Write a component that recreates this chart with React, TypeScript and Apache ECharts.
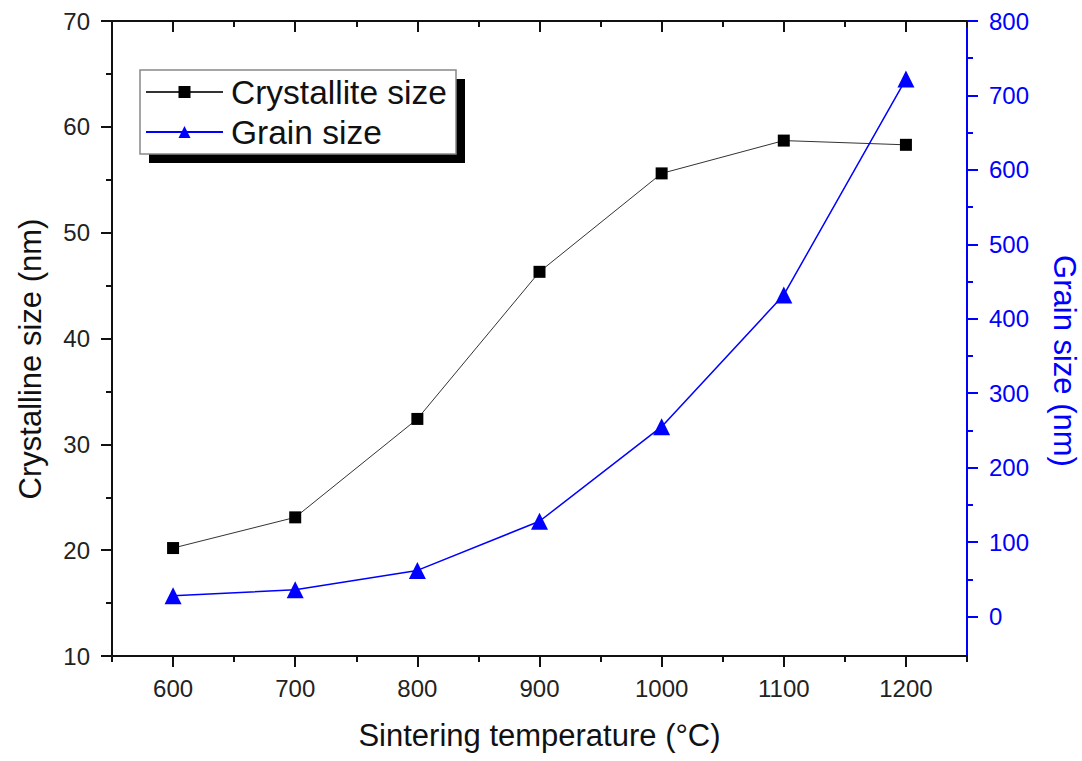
import React, { useEffect, useRef } from "react";
import * as echarts from "echarts";

const temperatures = [600, 700, 800, 900, 1000, 1100, 1200];
const crystalliteSize = [20.2, 23.1, 32.4, 46.3, 55.6, 58.7, 58.3];
const grainSize = [28, 36, 62, 128, 255, 432, 722];

const xMajorTicks = [600, 700, 800, 900, 1000, 1100, 1200];
const xMinorTicks = [550, 650, 750, 850, 950, 1050, 1150, 1250];
const rightMajorTicks = [0, 100, 200, 300, 400, 500, 600, 700, 800];
const rightMinorTicks = [50, 150, 250, 350, 450, 550, 650, 750];

const FONT = "'Liberation Sans', Arial, sans-serif";
const BLUE = "#0000ff";

export default function App() {
  const ref = useRef<HTMLDivElement>(null);
  useEffect(() => {
    if (!ref.current) return;
    const chart = echarts.init(ref.current, null, { renderer: "svg" });
    const black = "#111";
    const plain = (v: number) => String(v);
    const baseX = {
      type: "value",
      min: 550,
      max: 1250,
      splitLine: { show: false },
    };
    chart.setOption({
      animation: false,
      backgroundColor: "#fff",
      textStyle: { fontFamily: FONT },
      grid: { left: 112, right: 115, top: 21, bottom: 105, containLabel: false, outerBoundsMode: "none" },
      graphic: [
        { type: "rect", z: 1, shape: { x: 149, y: 79, width: 316, height: 84 }, style: { fill: "#000" } },
        { type: "rect", z: 1, shape: { x: 140, y: 70, width: 316, height: 84 }, style: { fill: "#fff", stroke: "#888", lineWidth: 1.5 } },
        {
          type: "text",
          z: 5,
          x: 30,
          y: 359,
          rotation: Math.PI / 2,
          style: { text: "Crystalline size (nm)", fontSize: 31, fontFamily: FONT, fill: "#111", align: "center", verticalAlign: "middle" },
        },
        {
          type: "text",
          z: 5,
          x: 1064,
          y: 361,
          rotation: -Math.PI / 2,
          style: { text: "Grain size (nm)", fontSize: 31, fontFamily: FONT, fill: BLUE, align: "center", verticalAlign: "middle" },
        },
      ],
      legend: {
        z: 10,
        orient: "vertical",
        left: 145,
        top: 72,
        padding: 0,
        itemGap: 0,
        itemWidth: 77,
        itemHeight: 15,
        textStyle: { fontSize: 33.5, lineHeight: 40, color: "#111", fontFamily: FONT, padding: [0, 0, 0, 3] },
        data: ["Crystallite size", "Grain size"],
      },
      xAxis: [
        {
          ...baseX,
          position: "bottom",
          name: "Sintering temperature (\u00b0C)",
          nameLocation: "middle",
          nameGap: 64,
          nameTextStyle: { fontSize: 31, color: "#111", fontFamily: FONT },
          axisLine: { show: true, onZero: false, lineStyle: { color: black, width: 2 } },
          axisTick: { show: true, length: 11, lineStyle: { color: black, width: 2 }, customValues: xMajorTicks },
          axisLabel: { fontSize: 24, color: "#222", margin: 20, customValues: xMajorTicks, formatter: plain, fontFamily: FONT },
        },
        {
          ...baseX,
          position: "bottom",
          axisLine: { show: false, onZero: false },
          axisTick: { show: true, length: 6, lineStyle: { color: black, width: 2 }, customValues: xMinorTicks },
          axisLabel: { show: false },
        },
        {
          ...baseX,
          position: "top",
          axisLine: { show: true, onZero: false, lineStyle: { color: black, width: 2 } },
          axisTick: { show: true, inside: true, length: 11, lineStyle: { color: black, width: 2 }, customValues: xMajorTicks },
          axisLabel: { show: false },
        },
        {
          ...baseX,
          position: "top",
          axisLine: { show: false, onZero: false },
          axisTick: { show: true, inside: true, length: 6, lineStyle: { color: black, width: 2 }, customValues: xMinorTicks },
          axisLabel: { show: false },
        },
      ],
      yAxis: [
        {
          type: "value",
          position: "left",
          min: 10,
          max: 70,
          interval: 10,
          splitLine: { show: false },
          axisLine: { show: true, onZero: false, lineStyle: { color: black, width: 2 } },
          axisTick: { show: true, length: 11, lineStyle: { color: black, width: 2 } },
          minorTick: { show: true, splitNumber: 2, length: 6, lineStyle: { color: black, width: 2 } },
          axisLabel: { fontSize: 24, color: "#222", margin: 22, formatter: plain, fontFamily: FONT },
        },
        {
          type: "value",
          position: "right",
          min: -53,
          max: 800,
          splitLine: { show: false },
          axisLine: { show: true, onZero: false, lineStyle: { color: BLUE, width: 2 } },
          axisTick: { show: true, length: 11, lineStyle: { color: BLUE, width: 2 }, customValues: rightMajorTicks },
          axisLabel: { fontSize: 24, color: BLUE, margin: 22, customValues: rightMajorTicks, formatter: plain, fontFamily: FONT },
        },
        {
          type: "value",
          position: "right",
          min: -53,
          max: 800,
          splitLine: { show: false },
          axisLine: { show: false, onZero: false },
          axisTick: { show: true, length: 6, lineStyle: { color: BLUE, width: 2 }, customValues: rightMinorTicks },
          axisLabel: { show: false },
        },
      ],
      series: [
        {
          name: "Crystallite size",
          type: "line",
          xAxisIndex: 0,
          yAxisIndex: 0,
          symbol: "rect",
          symbolSize: 12,
          itemStyle: { color: "#000" },
          lineStyle: { color: "#333", width: 1 },
          data: temperatures.map((t, i) => [t, crystalliteSize[i]]),
          z: 3,
        },
        {
          name: "Grain size",
          type: "line",
          xAxisIndex: 0,
          yAxisIndex: 1,
          symbol: "triangle",
          symbolSize: 17,
          itemStyle: { color: BLUE },
          lineStyle: { color: BLUE, width: 1.5 },
          data: temperatures.map((t, i) => [t, grainSize[i]]),
          z: 3,
        },
      ],
    });
    return () => chart.dispose();
  }, []);
  return (
    <div
      ref={ref}
      style={{ position: "absolute", left: 0, top: 0, width: 1082, height: 761, background: "#fff" }}
    />
  );
}
